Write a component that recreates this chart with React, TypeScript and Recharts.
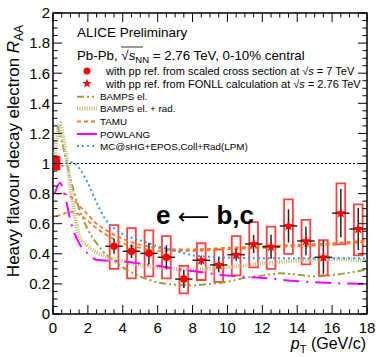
import React from 'react';
import {
  ComposedChart, Line, Scatter, XAxis, YAxis, ErrorBar, ReferenceArea, ReferenceLine,
} from 'recharts';

// measured points, pp ref. from scaled 7 TeV cross section
const ptCircle = [3.5, 4.5, 5.5, 6.5, 7.5];
const raaCircle = [0.45, 0.417, 0.403, 0.377, 0.232];
const statCircle = [0.05, 0.045, 0.07, 0.08, 0.06];
const sysLoCircle = [0.3, 0.237, 0.25, 0.237, 0.137];
const sysHiCircle = [0.59, 0.57, 0.556, 0.518, 0.32];

// measured points, pp ref. from FONLL at 2.76 TeV
const ptStar = [8.5, 9.5, 10.5, 11.5, 12.5, 13.5, 14.5, 15.5, 16.5, 17.5];
const raaStar = [0.357, 0.326, 0.394, 0.465, 0.447, 0.585, 0.485, 0.377, 0.67, 0.565];
const statStar = [0.03, 0.05, 0.04, 0.06, 0.08, 0.11, 0.095, 0.11, 0.16, 0.14];
const sysLoStar = [0.226, 0.213, 0.257, 0.31, 0.3, 0.4, 0.33, 0.257, 0.463, 0.39];
const sysHiStar = [0.47, 0.43, 0.518, 0.611, 0.58, 0.762, 0.625, 0.49, 0.868, 0.729];

// model curves
const ptBamps = [0.25, 0.5, 1, 1.5, 2, 2.5, 3, 3.5, 4, 5, 6, 7, 8, 9, 10, 11, 12, 13, 14, 15, 16, 17, 18];
const raaBamps = [1.25, 1.15, 0.9, 0.7, 0.56, 0.47, 0.4, 0.355, 0.31, 0.25, 0.21, 0.195, 0.19, 0.2, 0.215, 0.24, 0.255, 0.27, 0.262, 0.25, 0.258, 0.275, 0.295];
const ptBampsRad = [0.1, 0.25, 0.4, 0.55, 0.7, 1, 1.5, 2, 2.5, 3, 4, 5, 6, 7, 8, 10, 12, 14, 16, 18];
const raaBampsRad = [1.05, 1.2, 1.27, 1.2, 1.1, 0.85, 0.52, 0.45, 0.41, 0.385, 0.35, 0.325, 0.31, 0.3, 0.295, 0.31, 0.335, 0.355, 0.365, 0.355];
const ptTamu = [0.2, 0.5, 1, 1.5, 2, 2.5, 3, 4, 5, 6, 7, 8, 10, 12, 14, 16, 18];
const raaTamuHi = [0.8, 0.8, 0.78, 0.72, 0.66, 0.6, 0.56, 0.5, 0.46, 0.44, 0.43, 0.43, 0.44, 0.45, 0.46, 0.47, 0.49];
const raaTamuLo = [0.65, 0.66, 0.68, 0.66, 0.62, 0.57, 0.53, 0.47, 0.44, 0.42, 0.42, 0.42, 0.43, 0.44, 0.45, 0.46, 0.48];
const ptPowlang = [0.1, 0.4, 0.7, 1, 1.5, 2, 2.5, 3, 4, 5, 6, 7, 8, 9, 10, 12, 14, 16, 18];
const raaPowlang = [0.8, 0.87, 0.78, 0.62, 0.47, 0.4, 0.36, 0.355, 0.35, 0.335, 0.32, 0.3, 0.285, 0.27, 0.255, 0.24, 0.218, 0.205, 0.2];
const ptMc = [0.5, 1, 1.5, 2, 2.5, 3, 3.5, 4, 5, 6, 7, 8, 9, 10, 12, 14, 16, 18];
const raaMc = [0.98, 1.01, 0.97, 0.87, 0.74, 0.63, 0.57, 0.53, 0.49, 0.45, 0.42, 0.39, 0.38, 0.375, 0.37, 0.37, 0.37, 0.37];

const xTicks = [0, 2, 4, 6, 8, 10, 12, 14, 16, 18];
const yTicks = [0, 0.2, 0.4, 0.6, 0.8, 1, 1.2, 1.4, 1.6, 1.8, 2];
const xMinor = Array.from({ length: 37 }, (_, i) => i * 0.5);
const yMinor = Array.from({ length: 41 }, (_, i) => Math.round(i * 5) / 100);

const FONT = 'Liberation Sans, Arial, Helvetica, sans-serif';
const RED = '#ff0000';
const X_MAX = 18;
const Y_MAX = 2;

const curve = (xs: number[], ys: number[]) => xs.map((x, i) => ({ x, v: ys[i] }));
const points = (xs: number[], ys: number[], stat: number[]) =>
  xs.map((x, i) => ({ x, y: ys[i], ey: stat[i], ex: 0.5 }));

const circleData = points(ptCircle, raaCircle, statCircle);
const starData = points(ptStar, raaStar, statStar);
const sysBoxes = [
  ...ptCircle.map((x, i) => ({ x, lo: sysLoCircle[i], hi: sysHiCircle[i] })),
  ...ptStar.map((x, i) => ({ x, lo: sysLoStar[i], hi: sysHiStar[i] })),
];

// frame tick marks (inside the frame, ROOT style), lengths in axis units
const tickSegs: { a: { x: number; y: number }; b: { x: number; y: number } }[] = [];
xMinor.forEach((x) => {
  const len = xTicks.includes(x) ? 0.06 : 0.03;
  tickSegs.push({ a: { x, y: 0 }, b: { x, y: len } });
  tickSegs.push({ a: { x, y: Y_MAX }, b: { x, y: Y_MAX - len } });
});
yMinor.forEach((y) => {
  const len = yTicks.some((t) => Math.abs(t - y) < 1e-6) ? 0.52 : 0.26;
  tickSegs.push({ a: { x: 0, y }, b: { x: len, y } });
  tickSegs.push({ a: { x: X_MAX, y }, b: { x: X_MAX - len, y } });
});

const starPath = (cx: number, cy: number, ro: number, ri: number) => {
  const pts: string[] = [];
  for (let k = 0; k < 10; k++) {
    const r = k % 2 === 0 ? ro : ri;
    const a = -Math.PI / 2 + (k * Math.PI) / 5;
    pts.push(`${cx + r * Math.cos(a)},${cy + r * Math.sin(a)}`);
  }
  return pts.join(' ');
};

const CircleShape = (p: any) => <circle cx={p.cx} cy={p.cy} r={3.8} fill={RED} />;
const StarShape = (p: any) => <polygon points={starPath(p.cx, p.cy, 5.5, 2.3)} fill={RED} />;

const models = [
  { name: 'BAMPS el.', color: '#9c9c3a', dash: '7 3 2 3 2 3', width: 2 },
  { name: 'BAMPS el. + rad.', color: '#c2c288', dash: '1.2 1.2', width: 4 },
  { name: 'TAMU', color: '#f7782a', dash: '4 3', width: 1.8 },
  { name: 'POWLANG', color: '#ff00ff', dash: '16 7 2 7', width: 2 },
  { name: 'MC@sHG+EPOS,Coll+Rad(LPM)', color: '#3d95f5', dash: '2 3', width: 2 },
];
const legendY = [96.7, 108.5, 121.5, 134, 146];

const Overlay = () => (
  <svg width={378} height={357} style={{ position: 'absolute', left: 0, top: 0, pointerEvents: 'none' }}
    fontFamily={FONT}>
    <text x={77} y={37} fontSize={13.5}>ALICE Preliminary</text>
    <text x={77} y={60} fontSize={13.3}>
      Pb-Pb, √<tspan fontStyle="italic">s</tspan>
      <tspan fontSize={9.5} dy={3}>NN</tspan>
      <tspan dy={-3}> = 2.76 TeV, 0-10% central</tspan>
    </text>
    <line x1={121} x2={143} y1={47} y2={47} stroke="#000" strokeWidth={0.8} />

    <circle cx={87} cy={71} r={3.5} fill={RED} />
    <text x={106} y={75} fontSize={11}>with pp ref. from scaled cross section at √<tspan fontStyle="italic">s</tspan> = 7 TeV</text>
    <polygon points={starPath(87, 83.5, 5, 2)} fill={RED} />
    <text x={106} y={87.5} fontSize={11}>with pp ref. from FONLL calculation at √<tspan fontStyle="italic">s</tspan> = 2.76 TeV</text>

    {models.map((m, i) => (
      <g key={m.name}>
        <line x1={77} x2={97} y1={legendY[i]} y2={legendY[i]} stroke={m.color} strokeWidth={m.width}
          strokeDasharray={i === 3 ? undefined : m.dash} />
        <text x={100} y={legendY[i] + 3.6} fontSize={9.8}>{m.name}</text>
      </g>
    ))}

    <text x={156} y={224} fontSize={26} fontWeight="bold">e <tspan fontWeight="normal"
      fontFamily="DejaVu Sans" fontSize={22}>⟵</tspan> b,c</text>

    <text transform="translate(19,151) rotate(-90)" textAnchor="middle" fontSize={17}>
      Heavy flavour decay electron <tspan fontStyle="italic">R</tspan>
      <tspan fontSize={12} dy={4}>AA</tspan>
    </text>
    <text x={366} y={349} textAnchor="end" fontSize={16}>
      <tspan fontStyle="italic">p</tspan><tspan fontSize={11} dy={4}>T</tspan><tspan dy={-4}> (GeV/c)</tspan>
    </text>
  </svg>
);

export default function App() {
  return (
    <div style={{ position: 'absolute', left: 0, top: 0, width: 378, height: 357, background: '#fff' }}>
      <ComposedChart width={378} height={357} margin={{ top: 13, right: 11, bottom: 0, left: 0 }}>
        <XAxis xAxisId="x" dataKey="x" type="number" domain={[0, X_MAX]} allowDataOverflow ticks={xTicks}
          interval={0} axisLine={false} tickLine={false} tickSize={4} tickMargin={4} height={43}
          tick={{ fontSize: 15, fill: '#000', fontFamily: FONT }} />
        <YAxis yAxisId="y" type="number" domain={[0, Y_MAX]} allowDataOverflow ticks={yTicks} interval={0}
          axisLine={false} tickLine={false} tickSize={3} tickMargin={0} width={53}
          tick={{ fontSize: 15, fill: '#000', fontFamily: FONT }} />

        <ReferenceLine xAxisId="x" yAxisId="y" y={1} stroke="#000" strokeDasharray="2 2" strokeWidth={1} />
        <ReferenceArea xAxisId="x" yAxisId="y" x1={0.05} x2={0.42} y1={0.955} y2={1.05}
          fill={RED} fillOpacity={1} stroke="none" />

        <Line xAxisId="x" yAxisId="y" data={curve(ptBamps, raaBamps)} dataKey="v" type="monotone" dot={false}
          stroke={models[0].color} strokeWidth={models[0].width} strokeDasharray={models[0].dash} isAnimationActive={false} />
        <Line xAxisId="x" yAxisId="y" data={curve(ptBampsRad, raaBampsRad)} dataKey="v" type="monotone" dot={false}
          stroke={models[1].color} strokeWidth={models[1].width} strokeDasharray={models[1].dash} isAnimationActive={false} />
        <Line xAxisId="x" yAxisId="y" data={curve(ptTamu, raaTamuHi)} dataKey="v" type="monotone" dot={false}
          stroke={models[2].color} strokeWidth={models[2].width} strokeDasharray={models[2].dash} isAnimationActive={false} />
        <Line xAxisId="x" yAxisId="y" data={curve(ptTamu, raaTamuLo)} dataKey="v" type="monotone" dot={false}
          stroke={models[2].color} strokeWidth={models[2].width} strokeDasharray={models[2].dash} isAnimationActive={false} />
        <Line xAxisId="x" yAxisId="y" data={curve(ptPowlang, raaPowlang)} dataKey="v" type="monotone" dot={false}
          stroke={models[3].color} strokeWidth={models[3].width} strokeDasharray={models[3].dash} isAnimationActive={false} />
        <Line xAxisId="x" yAxisId="y" data={curve(ptMc, raaMc)} dataKey="v" type="monotone" dot={false}
          stroke={models[4].color} strokeWidth={models[4].width} strokeDasharray={models[4].dash} isAnimationActive={false} />

        {sysBoxes.map((b) => (
          <ReferenceArea key={`sys-${b.x}`} xAxisId="x" yAxisId="y" x1={b.x - 0.25} x2={b.x + 0.25} y1={b.lo} y2={b.hi}
            fill="none" fillOpacity={0} stroke={RED} strokeOpacity={0.75} strokeWidth={1.8} />
        ))}

        <Scatter xAxisId="x" yAxisId="y" data={circleData} dataKey="y" shape={CircleShape} isAnimationActive={false}>
          <ErrorBar dataKey="ey" direction="y" width={0} stroke="#222" strokeWidth={1.5} />
          <ErrorBar dataKey="ex" direction="x" width={0} stroke="#222" strokeWidth={1.5} />
        </Scatter>
        <Scatter xAxisId="x" yAxisId="y" data={starData} dataKey="y" shape={StarShape} isAnimationActive={false}>
          <ErrorBar dataKey="ey" direction="y" width={0} stroke="#222" strokeWidth={1.5} />
          <ErrorBar dataKey="ex" direction="x" width={0} stroke="#222" strokeWidth={1.5} />
        </Scatter>

        {tickSegs.map((s, i) => (
          <ReferenceLine key={`t${i}`} xAxisId="x" yAxisId="y" segment={[s.a, s.b]} stroke="#000" strokeWidth={1} />
        ))}
        <ReferenceArea xAxisId="x" yAxisId="y" x1={0} x2={X_MAX} y1={0} y2={Y_MAX}
          fill="none" fillOpacity={0} stroke="#000" strokeWidth={1.5} />
      </ComposedChart>
      <Overlay />
    </div>
  );
}
